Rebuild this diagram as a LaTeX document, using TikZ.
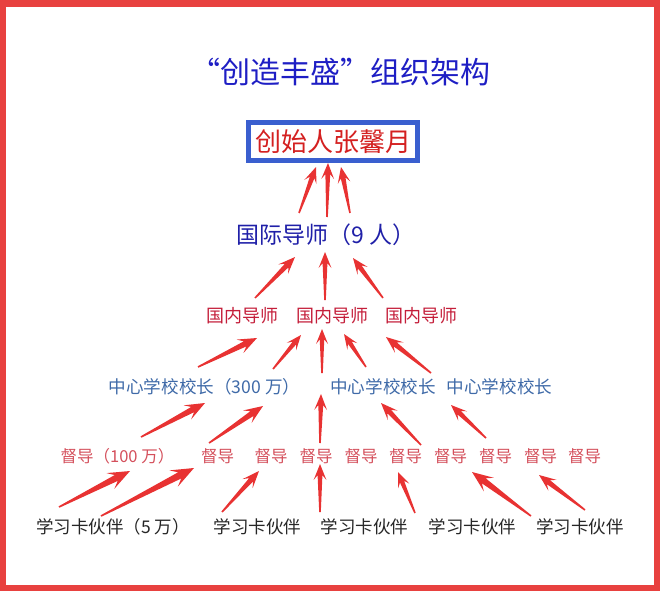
\documentclass[tikz,border=0pt]{standalone}
\usepackage{fontspec}
\setmainfont{Noto Sans CJK SC}
\usepackage{xcolor}
\usetikzlibrary{calc, positioning}

\definecolor{framered}{HTML}{E8413F}
\definecolor{titleblue}{HTML}{1E1EC4}
\definecolor{boxblue}{HTML}{3A5FCF}
\definecolor{boxred}{HTML}{D42020}
\definecolor{intlblue}{HTML}{2020A8}
\definecolor{tutorred}{HTML}{C41E3A}
\definecolor{headblue}{HTML}{3F6AA8}
\definecolor{superred}{HTML}{D4505C}
\definecolor{arrowred}{HTML}{E83232}

% wedge arrow: [size]{tail}{tip}
\newcommand{\fatarrow}[3][1]{%
  \coordinate (fa-t) at (#2);
  \coordinate (fa-h) at (#3);
  \coordinate (fa-c) at ($(fa-h)!#1*20pt!(fa-t)$);
  \coordinate (fa-d) at ($(fa-h)!#1*14pt!(fa-t)$);
  \path [arrow] ($(fa-t)!0.8pt!90:(fa-h)$) -- ($(fa-d)!#1*3pt!90:(fa-h)$)
    -- ($(fa-c)!#1*8pt!90:(fa-h)$) -- (fa-h) -- ($(fa-c)!#1*8pt!-90:(fa-h)$)
    -- ($(fa-d)!#1*3pt!-90:(fa-h)$) -- ($(fa-t)!0.8pt!-90:(fa-h)$) -- cycle;
}

\begin{document}
\begin{tikzpicture}[
    x=1pt, y=-1pt,
    title/.style={text=titleblue, inner sep=0pt, font=\fontsize{30}{36}\selectfont},
    founder/.style={draw=boxblue, line width=5pt, fill=white, text=boxred, minimum width=169pt, minimum height=38pt, inner sep=2pt, font=\fontsize{26}{30}\selectfont},
    intl/.style={text=intlblue, inner sep=0pt, font=\fontsize{23}{27}\selectfont},
    tutor/.style={text=tutorred, inner sep=0pt, font=\fontsize{18}{22}\selectfont},
    head/.style={text=headblue, inner sep=0pt, font=\fontsize{17.6}{21}\selectfont},
    super/.style={text=superred, inner sep=0pt, font=\fontsize{16.5}{20}\selectfont},
    partner/.style={text=black!85, inner sep=0pt, font=\fontsize{17.5}{21}\selectfont},
    arrow/.style={fill=arrowred, draw=none},
    frame/.style={draw=framered, line width=6.5pt}
    ]
    \useasboundingbox (0,0) rectangle (660,591);
    \draw [frame] (3,3.5) rectangle (657,588);

    % Levels
    \node [title] (title) at (340,72) {“创造丰盛”组织架构};
    \node [founder] (founder) at (333,141.5) {创始人张馨月};
    \node [intl] (intl) at (326,235) {国际导师（9 人）};

    \node [tutor] (d1) at (242,316) {国内导师};
    \node [tutor] (d2) at (332,316) {国内导师};
    \node [tutor] (d3) at (421,316) {国内导师};

    \node [head] (c1) at (204.5,387) {中心学校校长（300 万）};
    \node [head] (c2) at (383,387) {中心学校校长};
    \node [head] (c3) at (499.5,387) {中心学校校长};

    \node [super] (s1) at (117.5,456) {督导（100 万）};
    \node [super] (s2) at (217.5,456) {督导};
    \node [super] (s3) at (271,456) {督导};
    \node [super] (s4) at (316,456) {督导};
    \node [super] (s5) at (361,456) {督导};
    \node [super] (s6) at (405.5,456) {督导};
    \node [super] (s7) at (450.5,456) {督导};
    \node [super] (s8) at (495.5,456) {督导};
    \node [super] (s9) at (540.5,456) {督导};
    \node [super] (s10) at (584.5,456) {督导};

    \node [partner] (p1) at (113,527) {学习卡伙伴（5 万）};
    \node [partner] (p2) at (257.5,527) {学习卡伙伴};
    \node [partner] (p3) at (364.5,527) {学习卡伙伴};
    \node [partner] (p4) at (472.5,527) {学习卡伙伴};
    \node [partner] (p5) at (580,527) {学习卡伙伴};

    % Arrows to founder
    \fatarrow[0.8]{$(intl)+(-27,-22)$}{$(founder)+(-17,25.5)$}
    \fatarrow[0.8]{$(intl)+(1,-18)$}{$(founder)+(-5,21.5)$}
    \fatarrow[0.8]{$(intl)+(24,-22)$}{$(founder)+(8,25.5)$}
    % Arrows to international tutors
    \fatarrow[0.85]{$(d1)+(13,-18)$}{$(intl)+(-31,22)$}
    \fatarrow[0.8]{$(d2)+(-7,-16)$}{$(intl)+(-1,17)$}
    \fatarrow[0.8]{$(d3)+(-38,-18)$}{$(intl)+(27,23)$}
    % Arrows to domestic tutors
    \fatarrow[0.95]{$(c1)+(-6.5,-20)$}{$(d1)+(15,22)$}
    \fatarrow[0.75]{$(c1)+(68.5,-18)$}{$(d2)+(-31,19)$}
    \fatarrow[0.75]{$(c2)+(-61,-14)$}{$(d2)+(-10,13)$}
    \fatarrow[0.75]{$(c2)+(-17,-20)$}{$(d2)+(12,18)$}
    \fatarrow[0.85]{$(c2)+(48,-14)$}{$(d3)+(-35,21)$}
    % Arrows to school heads
    \fatarrow[1.0]{$(s1)+(23.5,-19)$}{$(c1)+(0.5,16)$}
    \fatarrow[0.95]{$(s2)+(-8.5,-13)$}{$(c1)+(58.5,19)$}
    \fatarrow[0.8]{$(s4)+(4,-13)$}{$(c2)+(-62,7)$}
    \fatarrow[0.85]{$(s6)+(15.5,-11)$}{$(c2)+(-2,16)$}
    \fatarrow[0.8]{$(s8)+(-9.5,-18)$}{$(c3)+(-48.5,18)$}
    % Arrows to supervisors
    \fatarrow[1.1]{$(p1)+(-54,-20)$}{$(s1)+(12.5,15)$}
    \fatarrow[1.15]{$(p1)+(-12,-11)$}{$(s2)+(-23.5,12)$}
    \fatarrow[0.85]{$(p2)+(-35.5,-15)$}{$(s3)+(-12,15)$}
    \fatarrow[0.8]{$(p3)+(-44.5,-15)$}{$(s4)+(4,8)$}
    \fatarrow[0.75]{$(p4)+(-57.5,-14)$}{$(s6)+(-7.5,16)$}
    \fatarrow[1.05]{$(p5)+(-49,-11)$}{$(s7)+(21.5,16)$}
    \fatarrow[0.85]{$(p5)+(5,-17)$}{$(s9)+(-1.5,19)$}

\end{tikzpicture}
\end{document}
